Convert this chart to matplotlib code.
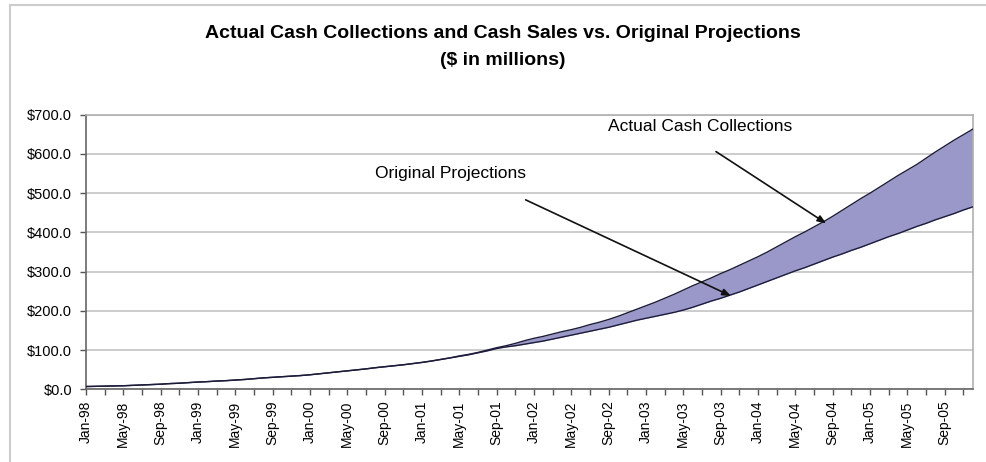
import numpy as np
import matplotlib
matplotlib.use("Agg")
from matplotlib import pyplot as plt
from matplotlib.lines import Line2D

plt.rcParams['font.family'] = ['Liberation Sans', 'DejaVu Sans']

# monthly, Jan-98 .. Dec-05 ($ millions)
months = ["Jan", "Feb", "Mar", "Apr", "May", "Jun",
          "Jul", "Aug", "Sep", "Oct", "Nov", "Dec"]
years = ["98", "99", "00", "01", "02", "03", "04", "05"]
month_labels = [f"{m}-{y}" for y in years for m in months]

actual = [
    7, 7.5, 8, 8.5, 9, 10, 11, 12, 13, 14.5, 15.5, 17,
    18.5, 19.5, 21, 22, 23.5, 25, 27, 29, 30.5, 32, 33.5, 35,
    37, 39.5, 42, 44.5, 47, 49.5, 52, 55, 57.5, 60, 62.5, 65.5,
    68.5, 72, 76, 80, 85, 89, 94, 100, 106, 111, 117, 124,
    130, 135, 141, 147, 152, 158, 165, 171, 178, 186, 195, 204,
    213, 222, 232, 242, 253, 264, 274, 284, 295, 305, 316, 327,
    338, 350, 363, 376, 389, 401, 414, 427, 441, 456, 471, 486,
    500, 515, 530, 545, 559, 573, 589, 605, 620, 635, 649, 663,
]

projected = [
    7, 7.5, 8, 8.5, 9, 10, 11, 12, 13, 14.5, 15.5, 17,
    18.5, 19.5, 21, 22, 23.5, 25, 27, 29, 30.5, 32, 33.5, 35,
    37, 39.5, 42, 44.5, 47, 49.5, 52, 55, 57.5, 60, 62.5, 65.5,
    68.5, 72, 76, 80, 84, 88, 93, 98, 104, 108, 111, 115,
    119, 123, 128, 133, 138, 143, 148, 153, 158, 164, 170, 176,
    181, 186, 191, 196, 202, 209, 217, 225, 232, 240, 248, 257,
    266, 275, 284, 293, 302, 310, 319, 328, 337, 345, 354, 362,
    371, 380, 389, 397, 406, 415, 423, 432, 440, 448, 457, 465,
]

x = np.arange(len(actual))

fig = plt.figure(figsize=(9.86, 4.62), dpi=100)
ax = fig.add_axes([0.0872, 0.1574, 0.8993, 0.5943])

# shaded gap between actual and projection
ax.fill_between(x, projected, actual, color="#9a98c8", linewidth=0, zorder=2)
ax.plot(x, actual, color="#1c1c3a", lw=1.0, zorder=3)
ax.plot(x, projected, color="#1c1c3a", lw=1.0, zorder=3)

ax.set_xlim(0, len(actual) - 1)
ax.set_ylim(0, 700)

yt = np.arange(0, 701, 100)
ax.set_yticks(yt)
ax.set_yticklabels([f"${v:.1f}" for v in yt], fontsize=10.5)
ax.yaxis.grid(True, color="#c4c4c4", lw=1.2, zorder=0)
ax.set_axisbelow(True)

ax.set_xticks(x[::4])
ax.set_xticklabels(month_labels[::4], rotation=90, fontsize=10)
ax.set_xticks(x[2::4], minor=True)
ax.tick_params(axis="x", which="both", length=4, width=1, color="#555555", pad=4)
ax.tick_params(axis="y", length=4, width=1, color="#555555", pad=6)

for s in ["left", "bottom"]:
    ax.spines[s].set_color("#666666")
    ax.spines[s].set_linewidth(1.2)
for s in ["top", "right"]:
    ax.spines[s].set_color("#b0b0b0")
    ax.spines[s].set_linewidth(1.2)

arrow = dict(arrowstyle="-|>,head_length=0.5,head_width=0.2", color="#111111",
             lw=1.2, shrinkA=0, shrinkB=0)
ax.annotate("", xy=(79.3, 423), xytext=(67.5, 606), arrowprops=arrow, zorder=5)
ax.annotate("", xy=(69.1, 238), xytext=(47.1, 483), arrowprops=arrow, zorder=5)
ax.text(65.8, 669, "Actual Cash Collections", fontsize=12.5, ha="center", va="center")
ax.text(39.1, 551, "Original Projections", fontsize=12.5, ha="center", va="center")

fig.text(0.51, 0.928, "Actual Cash Collections and Cash Sales vs. Original Projections",
         fontsize=14, fontweight="bold", ha="center", va="center")
fig.text(0.51, 0.87, "($ in millions)", fontsize=14, fontweight="bold",
         ha="center", va="center")

# outer chart frame (top and left edge visible)
fig.add_artist(Line2D([0.0101, 1.0], [0.989, 0.989], color="#cccccc", lw=1.5))
fig.add_artist(Line2D([0.0101, 0.0101], [0.0, 0.989], color="#cccccc", lw=1.5))

fig.savefig("out.png", dpi=100)
